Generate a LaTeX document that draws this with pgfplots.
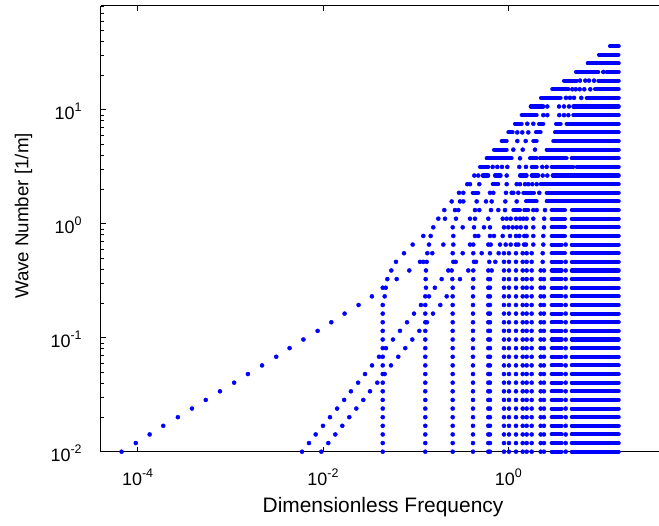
\documentclass[border=0pt]{standalone}
\usepackage{pgfplots}
\pgfplotsset{compat=1.18}
\usepackage{fontspec}
\setmainfont{Liberation Sans}
\newcommand\sups[1]{\raisebox{0.45em}{\fontsize{12.5}{12.5}\selectfont #1}}
\pgfplotsset{
 dots/.style={only marks, mark=*, mark size=2.05pt, color=blue, mark options={draw=none, fill=blue}},
 runs/.style={no markers, color=blue, line width=4.1pt, line cap=round},
}
\newcommand\run[3]{\addplot[runs] coordinates {(#1,#3) (#2,#3)};}
\newcommand\stdruns[1]{\run{2.93}{3.76}{#1}\run{4.82}{15.5}{#1}}
\begin{document}
\begin{tikzpicture}
\begin{axis}[
 at={(0,0)}, anchor=south west,
 scale only axis, width=562.2bp, height=446bp,
 xmode=log, ymode=log,
 xmin=4.009e-5, xmax=46.54, ymin=0.01, ymax=81.7,
 xtick={1e-4,1e-2,1}, xticklabels={10\sups{-4},10\sups{-2},10\sups{0}},
 ytick={0.01,0.1,1,10}, yticklabels={10\sups{-2},10\sups{-1},10\sups{0},10\sups{1}},
 xminorticks=false,
 minor ytick={0.02,0.03,0.04,0.05,0.06,0.07,0.08,0.09,0.2,0.3,0.4,0.5,0.6,0.7,0.8,0.9,2,3,4,5,6,7,8,9,20,30,40,50,60,70,80},
 ytick pos=left,
 tick align=inside,
 major tick length=5bp, minor tick length=3bp,
 tick style={black, line width=0.8bp},
 separate axis lines,
 axis line style={black, line width=1.2bp},
 clip=false,
 xticklabel style={font=\fontsize{18}{18}\selectfont, anchor=base, yshift=-34bp},
 yticklabel style={font=\fontsize{18}{18}\selectfont, anchor=east, inner sep=0pt, xshift=-19bp, yshift=-2bp},
 xlabel={Dimensionless Frequency},
 ylabel={Wave Number [1/m]},
 xlabel style={font=\fontsize{21}{22}\selectfont, at={(axis description cs:0.502,0)}, anchor=base, yshift=-60.6bp},
 ylabel style={font=\fontsize{18.8}{20}\selectfont, at={(axis description cs:-0.1286,0.5285)}, anchor=base},
]
% j0
\addplot[dots] coordinates {(6.72e-5,0.01)(5.94e-3,0.01)(9.59e-3,0.01)(0.0441,0.01)(0.1269,0.01)(0.2507,0.01)(0.415,0.01)(0.607,0.01)(0.633,0.01)(0.896,0.01)(1.015,0.01)(1.208,0.01)(1.427,0.01)(1.575,0.01)(1.784,0.01)(2.23,0.01)(2.42,0.01)(4.15,0.01)};
\stdruns{0.01}
% j1
\addplot[dots] coordinates {(9.57e-5,0.01191)(7.06e-3,0.01191)(1.141e-2,0.01191)(0.0441,0.01191)(0.1269,0.01191)(0.2507,0.01191)(0.415,0.01191)(0.607,0.01191)(0.633,0.01191)(0.896,0.01191)(1.015,0.01191)(1.208,0.01191)(1.427,0.01191)(1.575,0.01191)(1.784,0.01191)(2.23,0.01191)(2.42,0.01191)(4.15,0.01191)};
\stdruns{0.01191}
% j2
\addplot[dots] coordinates {(1.35e-4,0.01417)(8.34e-3,0.01417)(1.358e-2,0.01417)(0.0441,0.01417)(0.1269,0.01417)(0.2507,0.01417)(0.415,0.01417)(0.607,0.01417)(0.633,0.01417)(0.896,0.01417)(1.015,0.01417)(1.208,0.01417)(1.427,0.01417)(1.575,0.01417)(1.784,0.01417)(2.23,0.01417)(2.42,0.01417)(4.15,0.01417)};
\stdruns{0.01417}
% j3
\addplot[dots] coordinates {(1.89e-4,0.01687)(1.00e-2,0.01687)(1.615e-2,0.01687)(0.0441,0.01687)(0.1269,0.01687)(0.2507,0.01687)(0.415,0.01687)(0.607,0.01687)(0.633,0.01687)(0.896,0.01687)(1.015,0.01687)(1.208,0.01687)(1.427,0.01687)(1.575,0.01687)(1.784,0.01687)(2.23,0.01687)(2.42,0.01687)(4.15,0.01687)};
\stdruns{0.01687}
% j4
\addplot[dots] coordinates {(2.72e-4,0.02008)(1.19e-2,0.02008)(1.922e-2,0.02008)(0.0441,0.02008)(0.1269,0.02008)(0.2507,0.02008)(0.415,0.02008)(0.607,0.02008)(0.633,0.02008)(0.896,0.02008)(1.015,0.02008)(1.208,0.02008)(1.427,0.02008)(1.575,0.02008)(1.784,0.02008)(2.23,0.02008)(2.42,0.02008)(4.15,0.02008)};
\stdruns{0.02008}
% j5
\addplot[dots] coordinates {(3.86e-4,0.0239)(1.42e-2,0.0239)(2.287e-2,0.0239)(0.0441,0.0239)(0.1269,0.0239)(0.2507,0.0239)(0.415,0.0239)(0.607,0.0239)(0.633,0.0239)(0.896,0.0239)(1.015,0.0239)(1.208,0.0239)(1.427,0.0239)(1.575,0.0239)(1.784,0.0239)(2.23,0.0239)(2.42,0.0239)(4.15,0.0239)};
\stdruns{0.0239}
% j6
\addplot[dots] coordinates {(5.44e-4,0.02845)(1.69e-2,0.02845)(2.721e-2,0.02845)(0.0441,0.02845)(0.1269,0.02845)(0.2507,0.02845)(0.415,0.02845)(0.607,0.02845)(0.633,0.02845)(0.896,0.02845)(1.015,0.02845)(1.208,0.02845)(1.427,0.02845)(1.575,0.02845)(1.784,0.02845)(2.23,0.02845)(2.42,0.02845)(4.15,0.02845)};
\stdruns{0.02845}
% j7
\addplot[dots] coordinates {(7.74e-4,0.03388)(2.00e-2,0.03388)(3.214e-2,0.03388)(0.0441,0.03388)(0.1269,0.03388)(0.2507,0.03388)(0.415,0.03388)(0.607,0.03388)(0.633,0.03388)(0.896,0.03388)(1.015,0.03388)(1.208,0.03388)(1.427,0.03388)(1.575,0.03388)(1.784,0.03388)(2.23,0.03388)(2.42,0.03388)(4.15,0.03388)};
\stdruns{0.03388}
% j8
\addplot[dots] coordinates {(1.10e-3,0.04032)(2.39e-2,0.04032)(3.853e-2,0.04032)(0.0441,0.04032)(0.1269,0.04032)(0.2507,0.04032)(0.415,0.04032)(0.607,0.04032)(0.633,0.04032)(0.896,0.04032)(1.015,0.04032)(1.208,0.04032)(1.427,0.04032)(1.575,0.04032)(1.784,0.04032)(2.23,0.04032)(2.42,0.04032)(4.15,0.04032)};
\stdruns{0.04032}
% j9
\addplot[dots] coordinates {(1.55e-3,0.04801)(2.84e-2,0.04801)(4.63e-2,0.04801)(0.0441,0.04801)(0.1269,0.04801)(0.2507,0.04801)(0.415,0.04801)(0.607,0.04801)(0.633,0.04801)(0.896,0.04801)(1.015,0.04801)(1.208,0.04801)(1.427,0.04801)(1.575,0.04801)(1.784,0.04801)(2.23,0.04801)(2.42,0.04801)(4.15,0.04801)};
\stdruns{0.04801}
% j10
\addplot[dots] coordinates {(2.20e-3,0.05715)(3.38e-2,0.05715)(5.415e-2,0.05715)(0.0441,0.05715)(0.1269,0.05715)(0.2507,0.05715)(0.415,0.05715)(0.607,0.05715)(0.633,0.05715)(0.896,0.05715)(1.015,0.05715)(1.208,0.05715)(1.427,0.05715)(1.575,0.05715)(1.784,0.05715)(2.23,0.05715)(2.42,0.05715)(4.15,0.05715)};
\stdruns{0.05715}
% j11
\addplot[dots] coordinates {(3.13e-3,0.06803)(4.02e-2,0.06803)(6.49e-2,0.06803)(0.0441,0.06803)(0.1269,0.06803)(0.2507,0.06803)(0.415,0.06803)(0.607,0.06803)(0.633,0.06803)(0.896,0.06803)(1.015,0.06803)(1.208,0.06803)(1.427,0.06803)(1.575,0.06803)(1.784,0.06803)(2.23,0.06803)(2.42,0.06803)(4.15,0.06803)};
\stdruns{0.06803}
% j12
\addplot[dots] coordinates {(4.36e-3,0.08099)(4.78e-2,0.08099)(7.72e-2,0.08099)(0.0441,0.08099)(0.1269,0.08099)(0.2507,0.08099)(0.415,0.08099)(0.607,0.08099)(0.633,0.08099)(0.896,0.08099)(1.015,0.08099)(1.208,0.08099)(1.427,0.08099)(1.575,0.08099)(1.784,0.08099)(2.23,0.08099)(2.42,0.08099)(4.15,0.08099)};
\stdruns{0.08099}
% j13
\addplot[dots] coordinates {(6.15e-3,0.09641)(5.69e-2,0.09641)(9.19e-2,0.09641)(0.0441,0.09641)(0.1269,0.09641)(0.2507,0.09641)(0.415,0.09641)(0.607,0.09641)(0.633,0.09641)(0.896,0.09641)(1.015,0.09641)(1.208,0.09641)(1.427,0.09641)(1.575,0.09641)(1.784,0.09641)(2.23,0.09641)(2.42,0.09641)(4.15,0.09641)};
\stdruns{0.09641}
% j14
\addplot[dots] coordinates {(8.75e-3,0.1148)(6.77e-2,0.1148)(0.1094,0.1148)(0.0441,0.1148)(0.1269,0.1148)(0.2507,0.1148)(0.415,0.1148)(0.607,0.1148)(0.633,0.1148)(0.896,0.1148)(1.015,0.1148)(1.208,0.1148)(1.427,0.1148)(1.575,0.1148)(1.784,0.1148)(2.23,0.1148)(2.42,0.1148)(4.15,0.1148)};
\stdruns{0.1148}
% j15
\addplot[dots] coordinates {(1.23e-2,0.1366)(8.06e-2,0.1366)(0.1324,0.1366)(0.0441,0.1366)(0.1269,0.1366)(0.2507,0.1366)(0.415,0.1366)(0.607,0.1366)(0.633,0.1366)(0.896,0.1366)(1.015,0.1366)(1.208,0.1366)(1.427,0.1366)(1.575,0.1366)(1.784,0.1366)(2.23,0.1366)(2.42,0.1366)(4.15,0.1366)};
\stdruns{0.1366}
% j16
\addplot[dots] coordinates {(1.71e-2,0.1627)(9.59e-2,0.1627)(0.1537,0.1627)(0.0441,0.1627)(0.1269,0.1627)(0.2507,0.1627)(0.415,0.1627)(0.607,0.1627)(0.633,0.1627)(0.896,0.1627)(1.015,0.1627)(1.208,0.1627)(1.427,0.1627)(1.575,0.1627)(1.784,0.1627)(2.23,0.1627)(2.42,0.1627)(4.15,0.1627)};
\stdruns{0.1627}
% j17
\addplot[dots] coordinates {(2.42e-2,0.1936)(0.114,0.1936)(0.1842,0.1936)(0.0441,0.1936)(0.1269,0.1936)(0.2507,0.1936)(0.415,0.1936)(0.607,0.1936)(0.633,0.1936)(0.896,0.1936)(1.015,0.1936)(1.208,0.1936)(1.427,0.1936)(1.575,0.1936)(1.784,0.1936)(2.23,0.1936)(2.42,0.1936)(4.15,0.1936)};
\stdruns{0.1936}
% j18
\addplot[dots] coordinates {(0.0337,0.2305)(0.0463,0.2305)(0.1269,0.2305)(0.1392,0.2305)(0.216,0.2305)(0.2507,0.2305)(0.415,0.2305)(0.607,0.2305)(0.633,0.2305)(0.896,0.2305)(1.015,0.2305)(1.208,0.2305)(1.427,0.2305)(1.575,0.2305)(1.784,0.2305)(2.23,0.2305)(2.42,0.2305)(4.15,0.2305)};
\stdruns{0.2305}
% j19
\addplot[dots] coordinates {(0.0441,0.2744)(0.0475,0.2744)(0.1291,0.2744)(0.161,0.2744)(0.2507,0.2744)(0.415,0.2744)(0.607,0.2744)(0.633,0.2744)(0.896,0.2744)(1.015,0.2744)(1.208,0.2744)(1.427,0.2744)(1.575,0.2744)(1.784,0.2744)(2.23,0.2744)(2.42,0.2744)(4.15,0.2744)};
\stdruns{0.2744}
% j20
\addplot[dots] coordinates {(0.0494,0.3266)(0.0624,0.3266)(0.1282,0.3266)(0.1908,0.3266)(0.2483,0.3266)(0.3005,0.3266)(0.418,0.3266)(0.607,0.3266)(0.633,0.3266)(0.896,0.3266)(1.015,0.3266)(1.208,0.3266)(1.427,0.3266)(1.575,0.3266)(1.784,0.3266)(2.23,0.3266)(2.42,0.3266)(4.15,0.3266)};
\stdruns{0.3266}
% j21
\addplot[dots] coordinates {(0.05455,0.3888)(0.0853,0.3888)(0.1291,0.3888)(0.2248,0.3888)(0.2446,0.3888)(0.3693,0.3888)(0.418,0.3888)(0.607,0.3888)(0.6606,0.3888)(0.896,0.3888)(1.015,0.3888)(1.208,0.3888)(1.427,0.3888)(1.575,0.3888)(1.784,0.3888)(2.23,0.3888)(2.42,0.3888)(4.15,0.3888)};
\stdruns{0.3888}
% j22
\addplot[dots] coordinates {(0.0613,0.4628)(0.1113,0.4628)(0.1208,0.4628)(0.1314,0.4628)(0.2545,0.4628)(0.2701,0.4628)(0.4254,0.4628)(0.4472,0.4628)(0.6223,0.4628)(0.7224,0.4628)(0.896,0.4628)(1.015,0.4628)(1.208,0.4628)(1.427,0.4628)(1.575,0.4628)(1.784,0.4628)(2.344,0.4628)(4.15,0.4628)};
\stdruns{0.4628}
% j23
\addplot[dots] coordinates {(0.0748,0.551)(0.1334,0.551)(0.1511,0.551)(0.2507,0.551)(0.3214,0.551)(0.418,0.551)(0.5152,0.551)(0.6332,0.551)(0.7856,0.551)(0.896,0.551)(1.015,0.551)(1.208,0.551)(1.427,0.551)(1.575,0.551)(1.784,0.551)(2.344,0.551)};
\run{2.93}{4.08}{0.551}\run{4.82}{15.5}{0.551}
% j24
\addplot[dots] coordinates {(0.0928,0.6559)(0.1392,0.6559)(0.1986,0.6559)(0.2545,0.6559)(0.3853,0.6559)(0.418,0.6559)(0.607,0.6559)(0.6444,0.6559)(0.8119,0.6559)(0.9352,0.6559)(1.059,0.6559)(1.208,0.6559)(1.279,0.6559)(1.473,0.6559)(1.548,0.6559)(1.856,0.6559)(2.379,0.6559)(4.15,0.6559)};
\stdruns{0.6559}
% j25
\addplot[dots] coordinates {(0.1208,0.7808)(0.1451,0.7808)(0.2545,0.7808)(0.4362,0.7808)(0.4734,0.7808)(0.633,0.7808)(0.6994,0.7808)(0.868,0.7808)(1.041,0.7808)(1.208,0.7808)(1.311,0.7808)(1.484,0.7808)(1.575,0.7808)(1.856,0.7808)(2.379,0.7808)};
\run{2.93}{4.08}{0.7808}\run{4.82}{15.5}{0.7808}
% j26
\addplot[dots] coordinates {(0.1548,0.9294)(0.2507,0.9294)(0.3214,0.9294)(0.4254,0.9294)(0.5455,0.9294)(0.633,0.9294)(0.896,0.9294)(0.998,0.9294)(1.113,0.9294)(1.229,0.9294)(1.358,0.9294)(1.548,0.9294)(1.856,0.9294)(2.421,0.9294)};
\run{2.93}{4.08}{0.9294}\run{4.82}{15.5}{0.9294}
% j27
\addplot[dots] coordinates {(0.1753,1.106)(0.2071,1.106)(0.2721,1.106)(0.3853,1.106)(0.4362,1.106)(0.607,1.106)(0.868,1.106)(0.9587,1.106)(1.059,1.106)(1.208,1.106)(1.334,1.106)(1.45,1.106)(1.575,1.106)(1.856,1.106)(2.434,1.106)};
\run{2.93}{4.08}{1.106}\run{4.82}{15.5}{1.106}
% j28
\addplot[dots] coordinates {(0.2035,1.317)(0.2655,1.317)(0.2882,1.317)(0.4362,1.317)(0.4853,1.317)(0.6492,1.317)(0.778,1.317)(0.919,1.317)(1.856,1.317)(2.02,1.317)(2.482,1.317)};
\run{1.13}{1.334}{1.317}\run{1.484}{1.639}{1.317}\run{2.93}{4.08}{1.317}\run{4.82}{15.5}{1.317}
% j29
\addplot[dots] coordinates {(0.2446,1.568)(0.3005,1.568)(0.3263,1.568)(0.455,1.568)(0.5734,1.568)(0.6606,1.568)(0.926,1.568)(1.229,1.568)};
\run{1.548}{2.02}{1.568}\run{2.589}{15.5}{1.568}
% j30
\addplot[dots] coordinates {(0.2931,1.866)(0.3263,1.866)(0.633,1.866)(0.6873,1.866)(0.9421,1.866)(1.085,1.866)(1.13,1.866)(1.279,1.866)(2.154,1.866)};
\run{0.412}{0.4734}{1.866}\run{1.448}{1.889}{1.866}\run{2.589}{15.5}{1.866}
% j31
\addplot[dots] coordinates {(0.3602,2.222)(0.3853,2.222)(0.4853,2.222)(0.9587,2.222)(1.229,2.222)(1.334,2.222)(1.511,2.222)(1.639,2.222)(1.811,2.222)(2.02,2.222)};
\run{0.6771}{0.778}{2.222}\run{2.23}{15.5}{2.222}
% j32
\addplot[dots] coordinates {(0.4287,2.645)(0.4734,2.645)(0.9587,2.645)(2.344,2.645)(2.628,2.645)};
\run{0.5282}{0.607}{2.645}\run{0.7169}{0.826}{2.645}\run{1.334}{1.575}{2.645}\run{1.784}{2.101}{2.645}\run{3.005}{15.5}{2.645}
% j33
\addplot[dots] coordinates {(0.6771,3.149)(0.7592,3.149)(0.8532,3.149)(0.973,3.149)(1.311,3.149)(1.548,3.149)(2.321,3.149)(2.589,3.149)};
\run{0.4937}{0.607}{3.149}\run{1.784}{2.02}{3.149}\run{2.931}{5.013}{3.149}\run{5.455}{15.5}{3.149}
% j34
\addplot[dots] coordinates {(1.334,3.748)};
\run{0.5834}{1.085}{3.748}\run{1.71}{2.02}{3.748}\run{2.192}{4.254}{3.748}\run{4.818}{15.5}{3.748}
% j35
\addplot[dots] coordinates {(1.13,4.462)(1.427,4.462)(1.936,4.462)};
\run{0.6994}{0.9587}{4.462}\run{2.589}{15.5}{4.462}
% j36
\addplot[dots] coordinates {(1.247,5.312)(1.537,5.312)};
\run{0.8467}{0.9587}{5.312}\run{1.856}{2.02}{5.312}\run{3.05}{15.5}{5.312}
% j37
\addplot[dots] coordinates {(1.247,6.323)(1.412,6.323)(1.639,6.323)};
\run{0.998}{1.113}{6.323}\run{1.985}{2.23}{6.323}\run{3.182}{15.5}{6.323}
% j38
\addplot[dots] coordinates {(1.599,7.527)(1.856,7.527)};
\run{1.178}{1.392}{7.527}\run{2.139}{2.379}{7.527}\run{3.263}{3.666}{7.527}\run{4.254}{15.5}{7.527}
% j39
\addplot[dots] coordinates {(2.379,8.961)(2.628,8.961)(3.54,8.961)(3.979,8.961)(4.429,8.961)};
\run{1.392}{2.02}{8.961}\run{5.013}{15.5}{8.961}
% j40
\addplot[dots] coordinates {(2.628,10.67)(3.52,10.67)(3.979,10.67)(4.506,10.67)};
\run{1.74}{2.379}{10.67}\run{5.013}{15.5}{10.67}
% j41
\addplot[dots] coordinates {(4.181,12.70)(4.619,12.70)(5.102,12.70)(6.113,12.70)};
\run{2.247}{3.666}{12.70}\run{6.994}{15.5}{12.70}
% j42
\addplot[dots] coordinates {(4.89,15.11)(5.321,15.11)(5.875,15.11)(6.59,15.11)(7.646,15.11)};
\run{2.975}{4.429}{15.11}\run{8.597}{15.5}{15.11}
% j43
\addplot[dots] coordinates {(5.92,17.99)(6.755,17.99)(7.403,17.99)(8.385,17.99)};
\run{3.979}{5.455}{17.99}\run{9.329}{15.5}{17.99}
% j44
\addplot[dots] coordinates {(10.56,21.42)};
\run{5.361}{9.33}{21.42}\run{11.49}{15.5}{21.42}
% j45-j47
\run{7.17}{15.5}{25.50}
\run{9.491}{15.4}{30.35}
\run{12.47}{15.5}{36.13}
\end{axis}
\pgfresetboundingbox
\path[use as bounding box] (-100.8bp,-74.3bp) rectangle (558.2bp,451.7bp);
\end{tikzpicture}
\end{document}
